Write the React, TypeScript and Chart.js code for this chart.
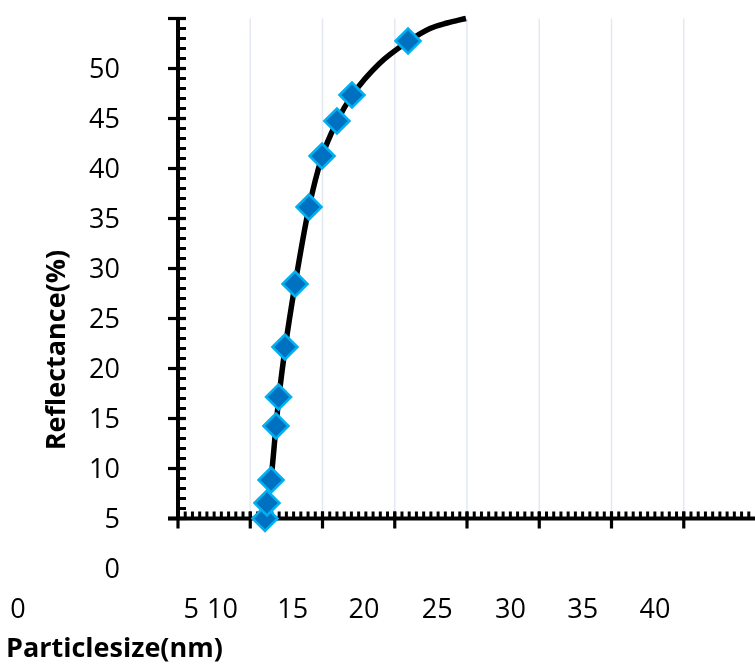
import { useEffect, useRef } from 'react';
import { Chart, registerables } from 'chart.js';

Chart.register(...registerables);

// ---- data ----
const particleSize = [6.02, 6.16, 6.44, 6.78, 6.96, 7.4, 8.1, 9.07, 9.97, 11.0, 12.04, 15.92];
const reflectance = [5.0, 6.55, 8.85, 14.25, 17.15, 22.15, 28.45, 36.15, 41.25, 44.75, 47.35, 52.75];

// smooth trend curve drawn through the points
const trendSize = [6.0, 6.16, 6.44, 6.78, 6.98, 7.42, 8.1, 9.05, 9.95, 11.0, 12.04, 13.94, 15.92, 17.44, 18.62, 19.93];
const trendReflectance = [5.0, 6.6, 9.0, 14.2, 17.1, 22.1, 28.4, 36.0, 41.1, 44.7, 47.3, 50.5, 52.7, 54.0, 54.55, 55.0];

const xTickValues = [0, 5, 10, 15, 20, 25, 30, 35, 40];
const xTickLabels = ['0', '5', '10', '15', '20', '25', '30', '35', '40'];
const yTickValues = [0, 5, 10, 15, 20, 25, 30, 35, 40, 45, 50];
const yTickLabels = ['0', '5', '10', '15', '20', '25', '30', '35', '40', '45', '50'];

const xAxisTitle = 'Particlesize(nm)';
const yAxisTitle = 'Reflectance(%)';

// ---- layout / style constants ----
const W = 755;
const H = 664;
const X_MIN = 0;
const X_MAX = 39.93;
const Y_MIN = 0;
const Y_MAX = 55;
const AXIS_CROSS_Y = 5; // x axis sits at reflectance 5
const X_MINOR_STEP = 0.5;
const Y_MINOR_STEP = 1;
const X_MAJOR_STEP = 5;
const Y_MAJOR_STEP = 5;
// pixel nudges of the x labels, as placed in the original figure
const X_LABEL_NUDGE = [-160, -59, -100, -102, -103, -102, -101, -101, -101];
const FONT = "'Open Sans', 'DejaVu Sans', sans-serif";
const TICK_FONT_SIZE = 27;

const axesPlugin = {
  id: 'excelAxes',
  beforeDatasetsDraw(chart: any) {
    const { ctx } = chart;
    const xs = chart.scales.x;
    const ys = chart.scales.y;
    const x0 = xs.getPixelForValue(X_MIN);
    const xEnd = xs.getPixelForValue(X_MAX);
    const yAxisBottom = ys.getPixelForValue(AXIS_CROSS_Y);
    const yAxisTop = ys.getPixelForValue(Y_MAX);

    ctx.save();
    // vertical gridlines
    ctx.strokeStyle = '#e3e8f2';
    ctx.lineWidth = 1.5;
    for (let v = X_MAJOR_STEP; v < X_MAX; v += X_MAJOR_STEP) {
      const px = xs.getPixelForValue(v);
      ctx.beginPath();
      ctx.moveTo(px, yAxisTop);
      ctx.lineTo(px, yAxisBottom);
      ctx.stroke();
    }

    ctx.strokeStyle = '#000';
    ctx.lineCap = 'butt';

    // y axis minor ticks
    ctx.lineWidth = 3;
    for (let v = AXIS_CROSS_Y; v <= Y_MAX + 0.001; v += Y_MINOR_STEP) {
      const py = ys.getPixelForValue(v);
      ctx.beginPath();
      ctx.moveTo(x0, py);
      ctx.lineTo(x0 + 8, py);
      ctx.stroke();
    }
    // y axis major ticks (cross)
    ctx.lineWidth = 3.2;
    for (let v = AXIS_CROSS_Y; v <= Y_MAX + 0.001; v += Y_MAJOR_STEP) {
      const py = ys.getPixelForValue(v);
      ctx.beginPath();
      ctx.moveTo(x0 - 10, py);
      ctx.lineTo(x0 + 8, py);
      ctx.stroke();
    }
    // x axis minor ticks (inside, above)
    ctx.lineWidth = 3;
    for (let v = X_MIN; v <= X_MAX + 0.001; v += X_MINOR_STEP) {
      const px = xs.getPixelForValue(v);
      ctx.beginPath();
      ctx.moveTo(px, yAxisBottom - 7);
      ctx.lineTo(px, yAxisBottom);
      ctx.stroke();
    }
    // x axis major ticks (cross)
    ctx.lineWidth = 3.2;
    for (let v = X_MIN; v <= X_MAX + 0.001; v += X_MAJOR_STEP) {
      const px = xs.getPixelForValue(v);
      ctx.beginPath();
      ctx.moveTo(px, yAxisBottom - 7);
      ctx.lineTo(px, yAxisBottom + 10);
      ctx.stroke();
    }
    // axis lines
    ctx.lineWidth = 4;
    ctx.beginPath();
    ctx.moveTo(x0, yAxisTop - 1.5);
    ctx.lineTo(x0, yAxisBottom);
    ctx.stroke();
    ctx.beginPath();
    ctx.moveTo(x0 - 10, yAxisBottom);
    ctx.lineTo(xEnd + 2, yAxisBottom);
    ctx.stroke();

    ctx.fillStyle = '#000';
    ctx.font = `${TICK_FONT_SIZE}px ${FONT}`;
    ctx.textBaseline = 'alphabetic';

    // y tick labels (right aligned, centered on their value)
    ctx.textAlign = 'right';
    const capHalf = TICK_FONT_SIZE * 0.714 / 2;
    yTickValues.forEach((v, i) => {
      const py = ys.getPixelForValue(v);
      ctx.fillText(yTickLabels[i], 120, py + capHalf);
    });

    // x tick labels
    ctx.textAlign = 'center';
    xTickValues.forEach((v, i) => {
      const px = xs.getPixelForValue(v) + X_LABEL_NUDGE[i];
      ctx.fillText(xTickLabels[i], px, 618);
    });

    // axis titles
    ctx.font = `bold 27px ${FONT}`;
    ctx.textAlign = 'left';
    ctx.fillText(xAxisTitle, 6, 657);

    ctx.save();
    ctx.translate(57, 350);
    ctx.rotate(-Math.PI / 2);
    ctx.textAlign = 'center';
    ctx.textBaseline = 'middle';
    ctx.fillText(yAxisTitle, 0, 0);
    ctx.restore();

    ctx.restore();
  },
};

export default function App() {
  const canvasRef = useRef<HTMLCanvasElement | null>(null);

  useEffect(() => {
    document.body.style.margin = '0';
    const canvas = canvasRef.current;
    if (!canvas) return;

    const chart = new Chart(canvas, {
      type: 'scatter',
      data: {
        datasets: [
          {
            label: 'Reflectance',
            data: particleSize.map((x, i) => ({ x, y: reflectance[i] })),
            pointStyle: 'rectRot',
            pointRadius: 12.5,
            pointHoverRadius: 12.5,
            backgroundColor: '#0070C0',
            borderColor: '#00B0F0',
            borderWidth: 2.5,
            showLine: false,
            clip: false,
            order: 0,
          } as any,
          {
            label: 'Trend',
            data: trendSize.map((x, i) => ({ x, y: trendReflectance[i] })),
            showLine: true,
            borderColor: '#000',
            borderWidth: 5.5,
            pointRadius: 0,
            cubicInterpolationMode: 'monotone',
            clip: false,
            order: 1,
          } as any,
        ],
      },
      options: {
        responsive: false,
        animation: false,
        devicePixelRatio: 1,
        layout: { autoPadding: false, padding: { top: 18.5, bottom: 95.5, left: 178, right: 0 } },
        plugins: {
          legend: { display: false },
          tooltip: { enabled: false },
          title: { display: false },
        },
        scales: {
          x: { type: 'linear', min: X_MIN, max: X_MAX, display: false },
          y: { type: 'linear', min: Y_MIN, max: Y_MAX, display: false },
        },
      },
      plugins: [axesPlugin],
    });

    return () => chart.destroy();
  }, []);

  return (
    <div style={{ width: W, height: H, position: 'relative', background: '#fff' }}>
      <canvas ref={canvasRef} width={W} height={H} style={{ display: 'block', width: W, height: H }} />
    </div>
  );
}
